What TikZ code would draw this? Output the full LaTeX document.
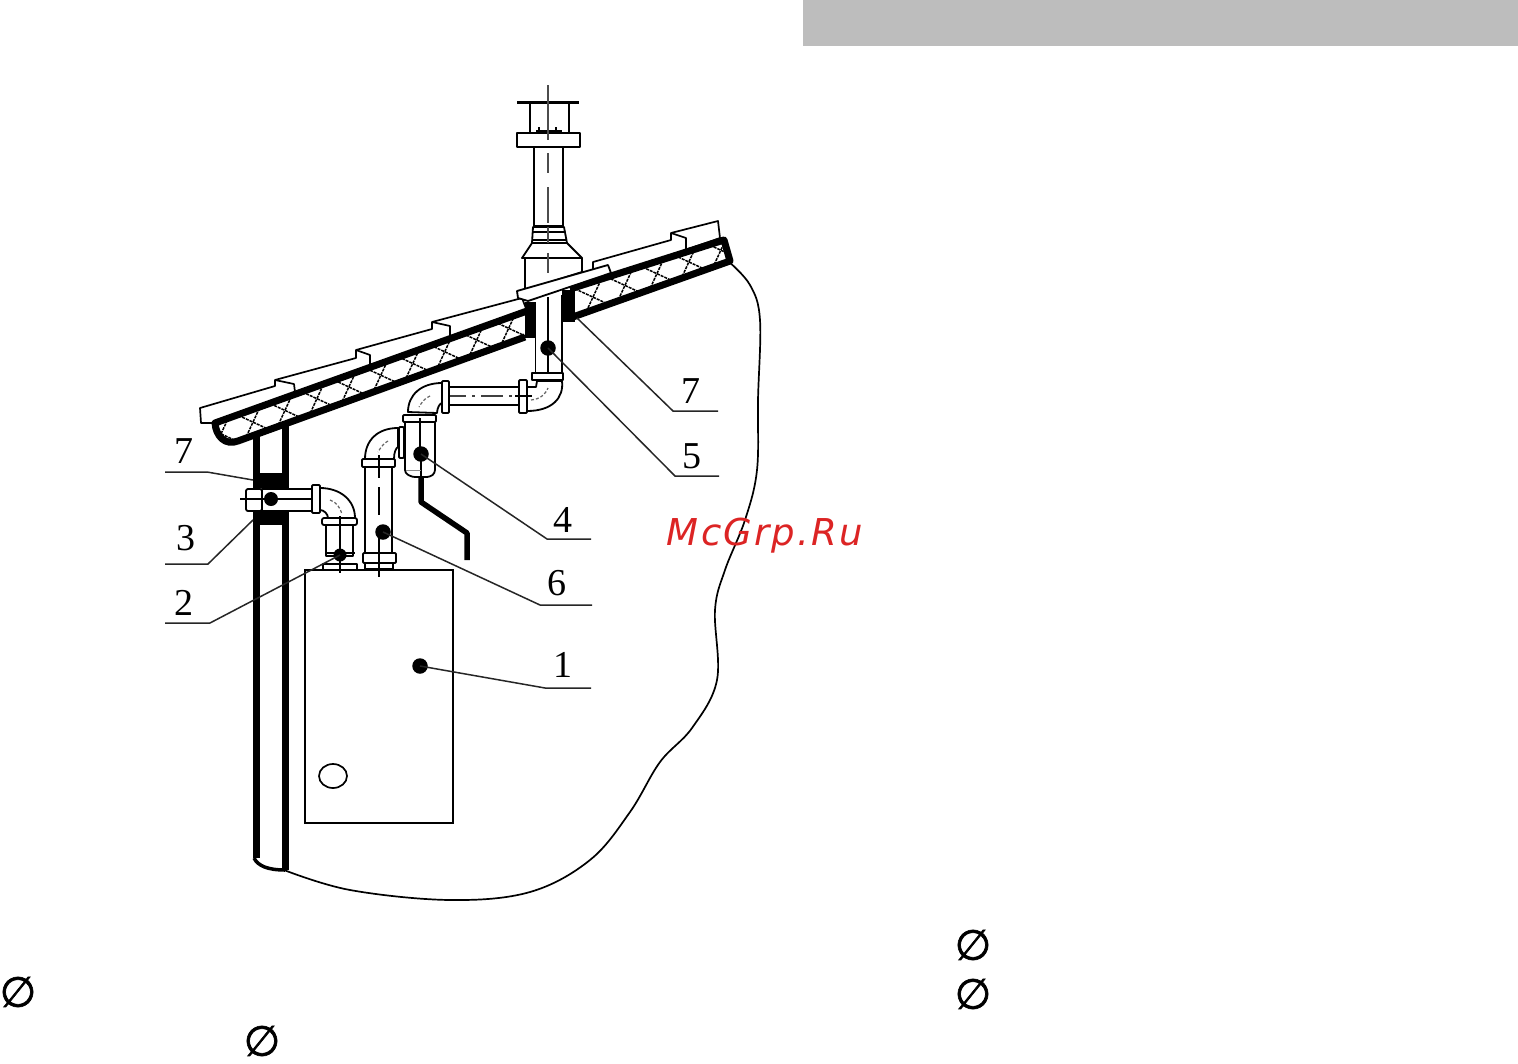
\documentclass[tikz,border=0pt]{standalone}
\usepackage{fontspec}
\setmainfont{Liberation Serif}
\newfontfamily\wmfont[LetterSpace=6]{DejaVu Sans}
\newfontfamily\symfont[FakeBold=1.6]{DejaVu Sans}
\definecolor{hdr}{RGB}{189,189,189}
\definecolor{wm}{RGB}{220,36,36}
\tikzset{
  ln/.style={draw=black,line width=1.7pt},
  thn/.style={draw=black,line width=1.2pt},
  thick5/.style={draw=black,line width=5.5pt,line join=round},
  fl/.style={draw=black,line width=1.8pt,fill=white,line join=round},
  tile/.style={draw=black,line width=1.7pt,line join=round},
  dotn/.style={circle,fill=black,inner sep=0pt,minimum size=15.5pt},
  lab/.style={inner sep=0pt,font=\fontsize{38}{38}\selectfont},
  lead/.style={draw=black!85,line width=1.5pt},
  cl/.style={draw=black!75,line width=1.4pt,dash pattern=on 22pt off 6pt on 3pt off 6pt},
  arcd/.style={draw=black!60,line width=1.2pt,dash pattern=on 3pt off 2pt},
  hatch/.style={draw=black,line width=1.5pt,dash pattern=on 3pt off 1pt},
  dia/.style={inner sep=0pt,font=\symfont\fontsize{42}{42}\selectfont},
  roofline/.style={black,line width=7pt,line join=round}
}
\begin{document}
\begin{tikzpicture}[x=1pt,y=-1pt]
\useasboundingbox (0,0) rectangle (1518,1063);
\fill[white] (0,0) rectangle (1518,1063);
\fill[hdr] (803,0) rectangle (1518,46);
% wall outline
\draw[ln] plot[smooth,tension=.6] coordinates {(728,261) (750,285) (760,320) (758,400) (757,470) (745,520) (725,570) (715,610) (717,680) (692,728) (660,762) (630,812) (590,860) (530,892) (450,900) (350,890) (284,870)};
% insulation band: hatch left
\begin{scope}
\clip (215,424) -- (527,311) -- (527,337) -- (237,441) .. controls (225,445) and (216,436) .. (215,424) -- cycle;
\foreach \s in {-17,17,...,340}{
  \draw[hatch] ({237+\s*.94-18},{428-\s*.345-8.3}) -- ({237+\s*.94+18},{428-\s*.345+8.3});
  \draw[hatch] ({237+\s*.94-8.3},{428-\s*.345+18}) -- ({237+\s*.94+8.3},{428-\s*.345-18});
}
\end{scope}
\begin{scope}
\clip (570,289) -- (724,240) -- (730,261) -- (570,318) -- cycle;
\foreach \s in {-17,17,...,180}{
  \draw[hatch] ({577+\s*.94-18},{303-\s*.345-8.3}) -- ({577+\s*.94+18},{303-\s*.345+8.3});
  \draw[hatch] ({577+\s*.94-8.3},{303-\s*.345+18}) -- ({577+\s*.94+8.3},{303-\s*.345-18});
}
\end{scope}
% tile silhouettes, resting on the roof line
\draw[tile,fill=white] (201,423) -- (200,408) -- (275,386) -- (275,380) -- (356,358) -- (356,350) -- (432,329) -- (432,322) -- (522,298) -- (527,311) -- (215,423) -- cycle;
\draw[tile] (275,380) -- (294,384) -- (295,392);
\draw[tile] (356,350) -- (370,355) -- (370,365);
\draw[tile] (432,322) -- (450,326) -- (450,336);
\draw[tile,fill=white] (593,270) -- (593,262) -- (671,240) -- (671,233) -- (718,221) -- (720,238) -- (610,276) -- cycle;
\draw[tile] (671,233) -- (686,238) -- (686,249);
% roof thick outlines
\draw[roofline] (527,311) -- (215,423) .. controls (216,436) and (225,446) .. (238,441) -- (525,337);
\draw[roofline] (570,289) -- (724,240) -- (730,261) -- (570,318);
% left black pipe
\draw[black,line width=7pt] (256,432) -- (256,858);
\draw[black,line width=7pt] (285,425) -- (285,870);
\draw[black,line width=3.5pt] (254,858) .. controls (258,866) and (268,870) .. (285,870);
\fill[black] (254,473) rectangle (289,488);
\fill[black] (254,510) rectangle (289,525);
% collar blocks
\fill[black] (525,302) rectangle (536,338);
\fill[black] (562,290) rectangle (575,322);
% chimney above the roof
\draw[fl] (525,290) -- (525,258) -- (582,258) -- (582,272) -- cycle;
\draw[fl] (522,258) -- (532,243) -- (567,243) -- (582,258) -- cycle;
\draw[fl] (532,243) -- (533,227) -- (564,227) -- (567,243) -- cycle;
\draw[ln] (533,232) -- (564,232);
\draw[ln] (532,240) -- (567,240);
\draw[black,line width=2.5pt] (533,226) -- (564,226);
\draw[fl] (534,147) rectangle (563,226);
\draw[fl] (517,133) rectangle (580,147);
\draw[ln] (530,102) -- (530,133) (569,102) -- (569,133);
\draw[black,line width=3pt] (517,102) -- (579,102);
\draw[ln] (536,131) -- (562,131);
\draw[thn] (539,127) -- (539,131) (556,127) -- (556,131);
\draw[black!70,line width=2pt] (548,85) -- (548,140);
\draw[black!70,line width=1.6pt] (548,153) -- (548,173) (548,187) -- (548,223) (548,253) -- (548,273);
\draw[black!70,line width=1.6pt] (548,227) -- (548,243);
% collar tile
\draw[fl] (517,291) -- (608,265) -- (611,273) -- (528,301) -- (518,298) -- cycle;
% flue below the roof
\fill[white] (536,303) rectangle (562,373);
\draw[ln] (535.5,302) -- (535.5,375) (562,295) -- (562,375);
\draw[thn] (548,297) -- (548,384);
% elbow 5
\draw[fl] (527,387) -- (536,387) -- (537,381) -- (562,381) .. controls (564,398) and (552,411) .. (527,411) -- cycle;
\draw[fl] (532,373) rectangle (563,380);
\draw[arcd] (531,400) .. controls (540,399) and (545,395) .. (548,388);
% horizontal pipe
\draw[fl] (449,387) rectangle (519,405);
\draw[cl] (444,396) -- (530,396);
\draw[fl,rounded corners=1pt] (442,381) rectangle (449,413);
\draw[fl,rounded corners=1pt] (519,380) rectangle (527,413);
\draw[thn] (515,396) -- (532,396);
% elbow from pipe to box
\draw[fl] (442,383) .. controls (421,383) and (408,395) .. (408,412) -- (437,413) .. controls (437,408) and (440,403) .. (442,403) -- cycle;
\draw[arcd] (430,396) .. controls (425,398) and (422,402) .. (419,407);
% handle
\draw[thick5] (421,472) -- (421,502) -- (467,533) -- (467,560);
% box 4
\draw[fl,rounded corners=3pt] (405,420) -- (405,473) -- (412,477) -- (430,477) -- (435,473) -- (435,420) -- cycle;
\draw[fl,rounded corners=1pt] (403,415) rectangle (436,422);
\draw[ln] (420,418) -- (420,450);
\draw[thn] (421,458) -- (421,477);
\draw[black!45,line width=1pt] (406,470) -- (421,470);
\draw[fl,rounded corners=1pt] (399,427) rectangle (404,458);
% elbow 6
\draw[fl] (398,428) .. controls (378,428) and (365,440) .. (365,459) -- (394,459) .. controls (394,452) and (396,448) .. (398,447) -- cycle;
\draw[arcd] (388,441) .. controls (384,443) and (381,447) .. (378,452);
% pipe 6
\draw[fl] (365,467) rectangle (392,553);
\draw[fl,rounded corners=1pt] (362,459) rectangle (395,467);
\draw[fl,rounded corners=1pt] (363,553) rectangle (396,563);
\draw[fl] (365,563) rectangle (393,569);
\draw[thn] (379,455) -- (379,478);
\draw[thn] (379,487) -- (379,515);
\draw[thn] (379,532) -- (379,577);
% boiler
\draw[ln] (305,570) rectangle (453,823);
\draw[ln] (333,776) ellipse [x radius=14,y radius=12];
% fitting 3
\draw[fl,rounded corners=2pt] (246,489) rectangle (262,511);
\draw[fl] (262,489) rectangle (313,511);
\draw[black,line width=1.6pt] (240,499) -- (317,499);
\draw[fl,rounded corners=1pt] (312,485) rectangle (320,513);
% elbow 2
\draw[fl] (320,488) .. controls (340,488) and (355,500) .. (355,518) -- (328,518) .. controls (328,514) and (324,510) .. (320,510) -- cycle;
\draw[arcd] (330,500) .. controls (336,502) and (340,507) .. (342,514);
\draw[fl] (326,525) rectangle (353,556);
\draw[fl,rounded corners=2pt] (322,518) rectangle (357,525);
\draw[fl] (323,564) rectangle (357,570);
\draw[black,line width=2pt] (326,553) -- (355,553);
\draw[thn] (340,516) -- (340,573);
% dots
\node[dotn] (d5) at (548,348) {};
\node[dotn] (d4) at (421,454) {};
\node[dotn] (d6) at (383,532) {};
\node[dotn,minimum size=14pt] (d3) at (271,499) {};
\node[dotn,minimum size=13pt] (d2) at (340,555) {};
\node[dotn] (d1) at (420,666) {};
% labels
\node[lab] (l7a) at (691,391) {7};
\node[lab] (l5) at (692,456) {5};
\node[lab] (l4) at (563,520) {4};
\node[lab] (l6) at (557,583) {6};
\node[lab] (l1) at (563,665) {1};
\node[lab] (l7b) at (184,451) {7};
\node[lab] (l3) at (186,538) {3};
\node[lab] (l2) at (184,603) {2};
% leader free ends
\coordinate (s7a) at (577,318); \coordinate (k7a) at (673,411); \coordinate (e7a) at (718,411);
\coordinate (k5) at (675,476); \coordinate (e5) at (719,476);
\coordinate (k4) at (547,539); \coordinate (e4) at (591,539);
\coordinate (k6) at (540,605); \coordinate (e6) at (592,605);
\coordinate (k1) at (545,688); \coordinate (e1) at (591,688);
\coordinate (s7b) at (253,480); \coordinate (k7b) at (207,472); \coordinate (e7b) at (165,472);
\coordinate (s3) at (253,520); \coordinate (k3) at (208,564); \coordinate (e3) at (165,564);
\coordinate (k2) at (210,623); \coordinate (e2) at (165,623);
\draw[lead] (s7a) -- (k7a) -- (e7a);
\draw[lead] (d5.center) -- (k5) -- (e5);
\draw[lead] (d4.center) -- (k4) -- (e4);
\draw[lead] (d6.center) -- (k6) -- (e6);
\draw[lead] (d1.center) -- (k1) -- (e1);
\draw[lead] (s7b) -- (k7b) -- (e7b);
\draw[lead] (s3) -- (k3) -- (e3);
\draw[lead] (d2.center) -- (k2) -- (e2);
% diameter signs
\node[dia] (o1) at (18,992) {∅};
\node[dia] (o2) at (262,1041) {∅};
\node[dia] (o3) at (973,945) {∅};
\node[dia] (o4) at (973,994) {∅};
% watermark
\node[inner sep=0pt,text=wm,font=\wmfont\itshape\fontsize{37}{37}\selectfont] (wmk) at (765,536) {McGrp.Ru};
\end{tikzpicture}
\end{document}
